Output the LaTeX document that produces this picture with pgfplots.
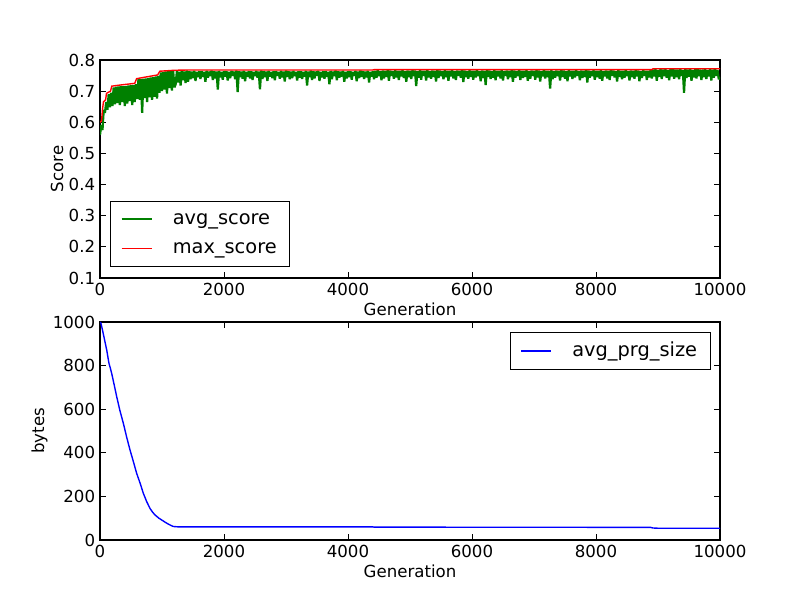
\documentclass[border=0pt]{standalone}
\usepackage{pgfplots}
\pgfplotsset{compat=1.18}
\usepackage{fontspec}
\setmainfont{DejaVu Sans}
\definecolor{mplgreen}{rgb}{0,0.5,0}
\definecolor{mplred}{rgb}{1,0,0}
\definecolor{mplblue}{rgb}{0,0,1}
\pgfplotsset{
  mplstyle/.style={
    scale only axis,
    width=446.4bp, height=156.96bp,
    axis line style={line width=1bp},
    tick align=inside,
    major tick length=4bp,
    every tick/.style={black, line width=0.6bp},
    minor tick num=0,
    scaled ticks=false,
    /pgf/number format/assume math mode=true,
    /pgf/number format/1000 sep={},
    tick label style={font=\fontsize{12}{14.4}\selectfont},
    label style={font=\fontsize{12}{14.4}\selectfont},
    ylabel shift=-3bp,
    xlabel shift=-1.5bp,
    xmin=0, xmax=10000,
    xtick={0,2000,4000,6000,8000,10000},
    xticklabel style={/pgf/number format/fixed},
    xlabel={Generation},
    legend cell align=left,
    legend style={draw=black, line width=0.8bp, font=\fontsize{14}{16.8}\selectfont,
      inner xsep=7.4bp, inner ysep=4.25bp, row sep=2.7bp, column sep=12.5bp,
      nodes={inner sep=2bp, text height=10.5bp, text depth=3.5bp}},
  }
}
\begin{document}
\begin{tikzpicture}
\useasboundingbox (0,0) rectangle (576bp,432bp);
\begin{axis}[mplstyle,
  at={(72bp,388.8bp)}, anchor=north west,
  ymin=0.1, ymax=0.8,
  ytick={0.1,0.2,0.3,0.4,0.5,0.6,0.7,0.8},
  yticklabel style={/pgf/number format/fixed, /pgf/number format/fixed zerofill, /pgf/number format/precision=1},
  ylabel={Score},
  legend style={at={(0.0161,0.049)}, anchor=south west},
]
\addplot[mplgreen, line width=1.6bp, line join=bevel, mark=none,
  legend image code/.code={\draw[solid, color=mplgreen, line width=1.3bp] (0bp,0.3bp) -- (21.6bp,0.3bp);}] coordinates {
(0,.560)(20,.590)(40,.575)(60,.640)(80,.630)(100,.665)(120,.640)(140,.690)(160,.648)(180,.695)
(200,.652)(220,.712)(240,.658)(260,.714)(280,.662)(300,.715)(320,.655)(340,.716)(360,.665)(380,.716)
(400,.652)(420,.717)(440,.660)(460,.718)(480,.668)(500,.719)(520,.655)(540,.720)(560,.665)(580,.722)
(600,.675)(620,.738)(640,.672)(660,.739)(680,.630)(700,.740)(720,.678)(740,.741)(760,.665)(780,.742)
(800,.680)(820,.744)(840,.672)(860,.745)(880,.682)(900,.747)(920,.676)(940,.749)(960,.695)(980,.760)
(1000,.700)(1020,.762)(1040,.705)(1060,.763)(1080,.692)(1100,.764)(1120,.710)(1140,.764)(1160,.702)(1180,.765)
(1200,.712)
(1220,.722)(1240,.764)(1260,.728)(1280,.762)(1300,.718)(1320,.765)(1340,.735)(1360,.763)(1380,.726)(1400,.766)(1420,.730)(1440,.764)(1460,.738)(1480,.763)(1500,.742)(1520,.765)(1540,.733)(1560,.762)(1580,.745)(1600,.764)
(1620,.739)(1640,.764)(1660,.746)(1680,.762)(1700,.730)(1720,.765)(1740,.743)(1760,.763)(1780,.748)(1800,.766)(1820,.736)(1840,.764)(1860,.741)(1880,.763)(1900,.705)(1920,.765)(1940,.744)(1960,.762)(1980,.737)(2000,.764)
(2020,.747)(2040,.764)(2060,.734)(2080,.762)(2100,.742)(2120,.765)(2140,.749)(2160,.763)(2180,.738)(2200,.766)(2220,.697)(2240,.764)(2260,.745)(2280,.763)(2300,.740)(2320,.765)(2340,.732)(2360,.762)(2380,.746)(2400,.764)
(2420,.741)(2440,.764)(2460,.736)(2480,.762)(2500,.748)(2520,.765)(2540,.743)(2560,.763)(2580,.706)(2600,.766)(2620,.739)(2640,.764)(2660,.745)(2680,.763)(2700,.733)(2720,.765)(2740,.747)(2760,.762)(2780,.742)(2800,.764)
(2820,.735)(2840,.764)(2860,.749)(2880,.762)(2900,.740)(2920,.765)(2940,.744)(2960,.763)(2980,.731)(3000,.766)(3020,.746)(3040,.764)(3060,.738)(3080,.763)(3100,.742)(3120,.765)(3140,.748)(3160,.762)(3180,.734)(3200,.764)
(3220,.743)(3240,.764)(3260,.739)(3280,.762)(3300,.747)(3320,.765)(3340,.718)(3360,.763)(3380,.745)(3400,.766)(3420,.736)(3440,.764)(3460,.741)(3480,.763)(3500,.749)(3520,.765)(3540,.733)(3560,.762)(3580,.744)(3600,.764)
(3620,.740)(3640,.764)(3660,.746)(3680,.762)(3700,.722)(3720,.765)(3740,.738)(3760,.763)(3780,.748)(3800,.766)(3820,.735)(3840,.764)(3860,.743)(3880,.763)(3900,.747)(3920,.765)(3940,.730)(3960,.762)(3980,.741)(4000,.764)
(4020,.745)(4040,.764)(4060,.737)(4080,.762)(4100,.749)(4120,.765)(4140,.732)(4160,.763)(4180,.742)(4200,.766)(4220,.746)(4240,.764)(4260,.739)(4280,.763)(4300,.744)(4320,.765)(4340,.728)(4360,.762)(4380,.747)(4400,.764)
(4420,.738)(4440,.765)(4460,.743)(4480,.767)(4500,.748)(4520,.764)(4540,.735)(4560,.766)(4580,.741)(4600,.765)(4620,.746)(4640,.767)(4660,.733)(4680,.766)(4700,.749)(4720,.764)(4740,.740)(4760,.767)(4780,.744)(4800,.765)
(4820,.736)(4840,.765)(4860,.747)(4880,.767)(4900,.742)(4920,.764)(4940,.730)(4960,.766)(4980,.745)(5000,.765)(5020,.739)(5040,.767)(5060,.748)(5080,.766)(5100,.716)(5120,.764)(5140,.743)(5160,.767)(5180,.737)(5200,.765)
(5220,.749)(5240,.765)(5260,.734)(5280,.767)(5300,.744)(5320,.764)(5340,.740)(5360,.766)(5380,.746)(5400,.765)(5420,.731)(5440,.767)(5460,.742)(5480,.766)(5500,.748)(5520,.764)(5540,.738)(5560,.767)(5580,.745)(5600,.765)
(5620,.733)(5640,.765)(5660,.747)(5680,.767)(5700,.741)(5720,.764)(5740,.736)(5760,.766)(5780,.749)(5800,.765)(5820,.743)(5840,.767)(5860,.729)(5880,.766)(5900,.745)(5920,.764)(5940,.740)(5960,.767)(5980,.746)(6000,.765)
(6020,.737)(6040,.765)(6060,.744)(6080,.767)(6100,.748)(6120,.764)(6140,.732)(6160,.766)(6180,.742)(6200,.765)(6220,.720)(6240,.767)(6260,.746)(6280,.766)(6300,.739)(6320,.764)(6340,.743)(6360,.767)(6380,.735)(6400,.765)
(6420,.747)(6440,.765)(6460,.741)(6480,.767)(6500,.734)(6520,.764)(6540,.749)(6560,.766)(6580,.738)(6600,.765)(6620,.745)(6640,.767)(6660,.730)(6680,.766)(6700,.743)(6720,.764)(6740,.748)(6760,.767)(6780,.736)(6800,.765)
(6820,.742)(6840,.765)(6860,.746)(6880,.767)(6900,.733)(6920,.764)(6940,.740)(6960,.766)(6980,.749)(7000,.765)(7020,.737)(7040,.767)(7060,.744)(7080,.766)(7100,.731)(7120,.764)(7140,.747)(7160,.767)(7180,.741)(7200,.765)
(7220,.745)(7240,.765)(7260,.708)(7280,.767)(7300,.738)(7320,.764)(7340,.743)(7360,.766)(7380,.748)(7400,.765)(7420,.734)(7440,.767)(7460,.746)(7480,.766)(7500,.740)(7520,.764)(7540,.732)(7560,.767)(7580,.747)(7600,.765)
(7620,.739)(7640,.765)(7660,.744)(7680,.767)(7700,.749)(7720,.764)(7740,.735)(7760,.766)(7780,.742)(7800,.765)(7820,.746)(7840,.767)(7860,.728)(7880,.766)(7900,.743)(7920,.764)(7940,.748)(7960,.767)(7980,.737)(8000,.765)
(8020,.745)(8040,.765)(8060,.740)(8080,.767)(8100,.733)(8120,.764)(8140,.747)(8160,.766)(8180,.741)(8200,.765)(8220,.736)(8240,.767)(8260,.749)(8280,.766)(8300,.744)(8320,.764)(8340,.731)(8360,.767)(8380,.746)(8400,.765)
(8420,.738)(8440,.765)(8460,.743)(8480,.767)(8500,.748)(8520,.764)(8540,.734)(8560,.766)(8580,.745)(8600,.765)(8620,.740)(8640,.767)(8660,.747)(8680,.766)(8700,.732)(8720,.764)(8740,.742)(8760,.767)(8780,.749)(8800,.765)
(8820,.736)(8840,.765)(8860,.744)(8880,.767)(8900,.741)(8920,.769)(8940,.747)(8960,.770)(8980,.733)(9000,.768)(9020,.746)(9040,.771)(9060,.739)(9080,.769)(9100,.748)(9120,.770)(9140,.743)(9160,.768)(9180,.735)(9200,.770)
(9220,.747)(9240,.771)(9260,.740)(9280,.769)(9300,.745)(9320,.769)(9340,.738)(9360,.770)(9380,.749)(9400,.768)(9420,.695)(9440,.771)(9460,.742)(9480,.769)(9500,.746)(9520,.770)(9540,.733)(9560,.768)(9580,.744)(9600,.770)
(9620,.741)(9640,.771)(9660,.748)(9680,.769)(9700,.736)(9720,.769)(9740,.745)(9760,.770)(9780,.739)(9800,.768)(9820,.747)(9840,.771)(9860,.734)(9880,.769)(9900,.743)(9920,.770)(9940,.749)(9960,.768)(9980,.738)(10000,.745)
};
\addlegendentry{avg\_score}
\addplot[mplred, line width=1bp, mark=none,
  legend image code/.code={\draw[solid, color=mplred, line width=1.1bp] (0bp,0bp) -- (21.6bp,0bp);}] coordinates {
(0,0.600) (25,0.605) (40,0.640) (55,0.665) (90,0.672) (105,0.693) (170,0.700) (190,0.716) (300,0.719) (560,0.725)
(590,0.740) (700,0.744) (930,0.752) (965,0.764) (1200,0.767) (1450,0.768)
(4400,0.768) (4420,0.769) (8900,0.769) (8920,0.772) (10000,0.772)
};
\addlegendentry{max\_score}
\end{axis}
\begin{axis}[mplstyle,
  at={(72bp,200.16bp)}, anchor=north west,
  ymin=0, ymax=1000,
  ytick={0,200,400,600,800,1000},
  ylabel={bytes},
  legend style={at={(0.985,0.953)}, anchor=north east},
]
\addplot[mplblue, line width=1bp, mark=none,
  legend image code/.code={\draw[solid, color=mplblue, line width=1.1bp] (0bp,0bp) -- (21.6bp,0bp);}] coordinates {
(0,1000) (16,994) (50,950) (108,872) (145,810) (165,790) (188,765) (230,710) (269,658) (320,595)
(376,536) (430,472) (484,413) (540,358) (591,306) (650,258) (699,214) (750,178) (806,145) (850,127)
(887,115) (950,100) (1022,87) (1060,80) (1102,73) (1150,66) (1183,62) (1250,60.5) (2000,60) (4400,60)
(4420,59) (8880,58) (8920,55) (9000,54) (10000,54)
};
\addlegendentry{avg\_prg\_size}
\end{axis}
\end{tikzpicture}
\end{document}
